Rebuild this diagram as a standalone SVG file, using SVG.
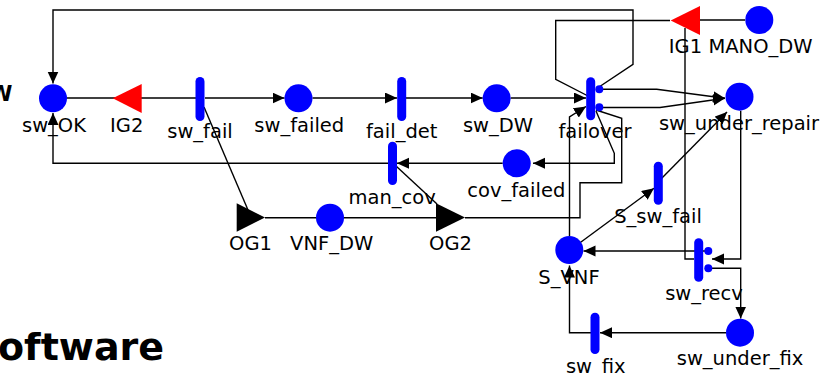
<svg xmlns="http://www.w3.org/2000/svg" width="838" height="375" viewBox="0 0 838 375">
<style>
.p{fill:#0000ff}
.b{fill:#0000ff}
.ig{fill:#ff0000}
.og{fill:#000000}
.c{fill:none;stroke:#000;stroke-width:1.4}
.a{marker-end:url(#ar)}
.t{font-family:"DejaVu Sans",Verdana,sans-serif;font-size:19.5px;fill:#000;text-anchor:middle}
.h{font-family:"DejaVu Sans",Verdana,sans-serif;font-weight:bold;fill:#000}
</style>
<defs>
<marker id="ar" markerUnits="userSpaceOnUse" markerWidth="13" markerHeight="12" refX="12" refY="5.5" orient="auto">
<path d="M0,0 L12,5.5 L0,11 z" fill="#000"/>
</marker>
</defs>
<rect width="838" height="375" fill="#fff"/>
<text class="h" x="12.5" y="100.5" font-size="21" text-anchor="end">W</text>
<text class="h" x="-2" y="360" font-size="38">oftware</text>
<g id="connectors">
<path class="c a" d="M599,87 L633,64.3 L633,10 L53,10 L53,83.5"/>
<path class="c" d="M670,20.5 L555.7,20.5 L555.7,79.3 L590,97"/>
<path class="c" d="M67,98 L196,98"/>
<path class="c a" d="M205,98 L284.5,98"/>
<path class="c a" d="M312.5,98 L397,98"/>
<path class="c a" d="M406,98 L482.7,98"/>
<path class="c a" d="M510.7,98 L586,98"/>
<path class="c a" d="M603,89.3 L656.7,89.3 L725,98.3"/>
<path class="c a" d="M603,107.5 L660,107.5 L725,98.3"/>
<path class="c a" d="M569.5,236 L569.5,117 L586,106.5"/>
<path class="c" d="M596,110 L621.7,118.3 L621.7,182.7 L580,182.7 L580,217.7 L465,217.7"/>
<path class="c a" d="M596,111 L614.3,153.3 L614.3,163.3 L533,163.3"/>
<path class="c a" d="M502.7,163.3 L397,163.3"/>
<path class="c a" d="M392,163.3 L53,163.3 L53,113"/>
<path class="c" d="M396,166 L437,204"/>
<path class="c" d="M204,107 L248,210"/>
<path class="c" d="M265,217.7 L436,217.7"/>
<path class="c a" d="M740.7,110.7 L740.7,259 L712,259"/>
<path class="c" d="M685,28 L685,259 L694,259"/>
<path class="c a" d="M708,251 L583.5,251"/>
<path class="c a" d="M708,268.3 L740.7,268.3 L740.7,318.5"/>
<path class="c a" d="M726,332.7 L600,332.7"/>
<path class="c a" d="M591,332.7 L569.5,332.7 L569.5,265.5"/>
<path class="c a" d="M580,242.7 L654,188.3"/>
<path class="c a" d="M660,180 L727,112"/>
<path class="c" d="M745,20 L700,20"/>
</g>
<g id="sw_OK"><circle class="p" cx="53" cy="98.3" r="14"/><text class="t" x="54" y="131.7">sw_OK</text></g>
<g id="IG2"><polygon class="ig" points="112.7,98.3 141.7,84 141.7,113"/><text class="t" x="126.7" y="131.7">IG2</text></g>
<g id="sw_fail"><rect class="b" x="195.5" y="77" width="9" height="44" rx="4.5"/><text class="t" x="200" y="138.3">sw_fail</text></g>
<g id="sw_failed"><circle class="p" cx="298.5" cy="98.3" r="14"/><text class="t" x="299.3" y="131.7">sw_failed</text></g>
<g id="fail_det"><rect class="b" x="397.2" y="77" width="9" height="44" rx="4.5"/><text class="t" x="401.7" y="138.3">fail_det</text></g>
<g id="sw_DW"><circle class="p" cx="496.7" cy="98.3" r="14"/><text class="t" x="498" y="131.7">sw_DW</text></g>
<g id="failover"><rect class="b" x="586.2" y="77.3" width="9" height="43" rx="4.5"/><circle class="p" cx="599.3" cy="89.3" r="4"/><circle class="p" cx="599.3" cy="107.3" r="4"/><text class="t" x="595" y="138.3">failover</text></g>
<g id="sw_under_repair"><circle class="p" cx="739.5" cy="96.7" r="14"/><text class="t" x="739" y="130">sw_under_repair</text></g>
<g id="IG1"><polygon class="ig" points="670.7,20.5 700,6 700,35"/><text class="t" x="685.5" y="53.3">IG1</text></g>
<g id="MANO_DW"><circle class="p" cx="759.3" cy="20" r="14"/><text class="t" x="760.5" y="53.3">MANO_DW</text></g>
<g id="cov_failed"><circle class="p" cx="516.7" cy="163.3" r="14"/><text class="t" x="516.3" y="196.7">cov_failed</text></g>
<g id="man_cov"><rect class="b" x="388" y="141.7" width="9" height="43.3" rx="4.5"/><text class="t" x="392.2" y="204">man_cov</text></g>
<g id="OG1"><polygon class="og" points="236.7,203.3 265,217.6 236.7,231.7"/><text class="t" x="250.5" y="250">OG1</text></g>
<g id="VNF_DW"><circle class="p" cx="330" cy="217.7" r="14"/><text class="t" x="331.7" y="250">VNF_DW</text></g>
<g id="OG2"><polygon class="og" points="436,203.3 465,217.6 436,231.7"/><text class="t" x="450.5" y="250">OG2</text></g>
<g id="S_VNF"><circle class="p" cx="569.3" cy="250" r="14"/><text class="t" x="569" y="284">S_VNF</text></g>
<g id="S_sw_fail"><rect class="b" x="653.8" y="161.7" width="9" height="43" rx="4.5"/><text class="t" x="658" y="223.3">S_sw_fail</text></g>
<g id="sw_recv"><rect class="b" x="694.2" y="238.3" width="9" height="43.4" rx="4.5"/><circle class="p" cx="708.3" cy="251" r="4"/><circle class="p" cx="708.3" cy="268.3" r="4"/><text class="t" x="704" y="300">sw_recv</text></g>
<g id="sw_under_fix"><circle class="p" cx="740" cy="332.7" r="14"/><text class="t" x="740" y="365">sw_under_fix</text></g>
<g id="sw_fix"><rect class="b" x="590.5" y="312.7" width="9" height="41.3" rx="4.5"/><text class="t" x="595.8" y="373.3">sw_fix</text></g>
</svg>
